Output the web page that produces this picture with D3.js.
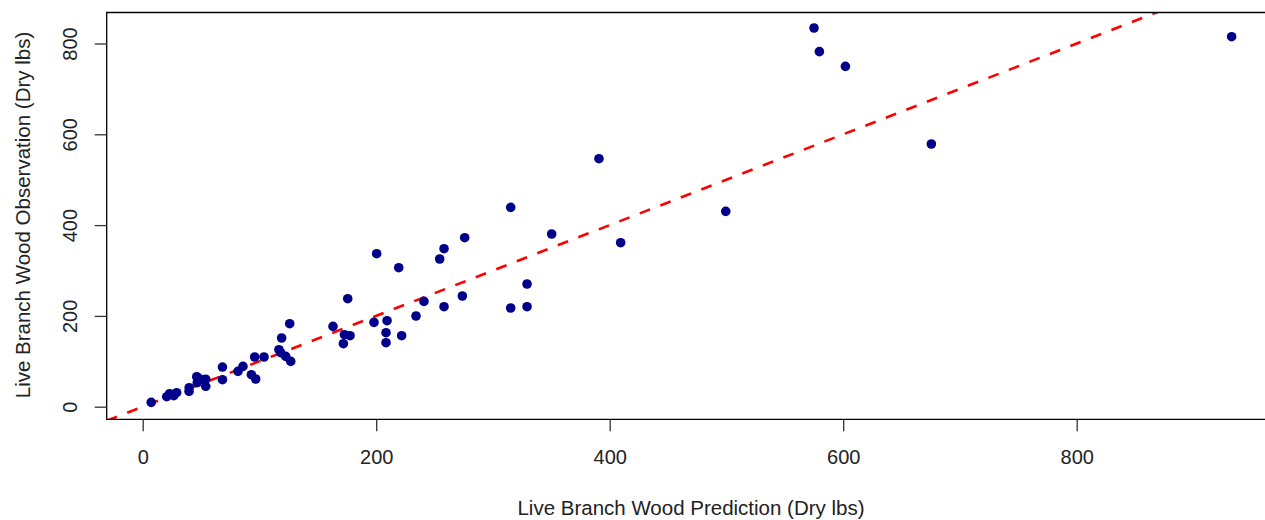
<!DOCTYPE html>
<html>
<head>
<meta charset="utf-8">
<script src="https://cdn.jsdelivr.net/npm/d3@7"></script>
<style>
  html, body { margin: 0; padding: 0; background: #fff; }
  text { font-family: "Liberation Sans", Arial, sans-serif; }
</style>
</head>
<body>
<svg id="chart" width="1265" height="520"></svg>
<script>
// Predicted (x) and observed (y) live branch wood, dry lbs
const predicted = [7.3, 20.6, 23.1, 26.6, 29.1, 39.7, 39.8, 46.3, 49.7, 54, 54, 46.7,
  68.3, 68.3, 81.6, 85.9, 93.1, 96.8, 95.9, 103.9, 116.7, 118.2, 122.5, 126.8, 119, 125.9,
  163, 175.6, 172.8, 177.6, 171.9, 200.4, 219.3, 198.1, 209.3, 208.4, 208.4, 221.8,
  234.1, 240.9, 258.1, 254.4, 258.1, 275.8, 273.8, 315.2, 329.2, 329.2, 350.3, 315.2,
  390.8, 409.4, 499.4, 575, 579.6, 601.9, 675.5, 932.7];
const observed = [9.5, 22, 28.6, 24.2, 30.8, 33.7, 41.9, 66, 60.6, 60.6, 45, 52.9,
  87.4, 59.5, 77.8, 88.8, 70.5, 61, 109.5, 109.5, 125.6, 119, 110.8, 99.8, 151.3, 182.8,
  176.9, 237.9, 158.6, 156.4, 138.8, 337, 306.2, 185.7, 189.4, 163, 141, 156.4,
  199.8, 231.9, 220.3, 325.3, 348, 372.2, 243.8, 217.4, 220.3, 270.3, 380.4, 439,
  546.3, 361.2, 430.2, 834.1, 782, 749.6, 578.6, 815];
const xTicks = [0, 200, 400, 600, 800];
const yTicks = [0, 200, 400, 600, 800];
const xTitle = "Live Branch Wood Prediction (Dry lbs)";
const yTitle = "Live Branch Wood Observation (Dry lbs)";

const svg = d3.select("#chart");
const plot = { left: 106.7, top: 12.5, right: 1290, bottom: 419.3 };

const x = d3.scaleLinear().domain([0, 800]).range([142.7, 1076.7]);
const y = d3.scaleLinear().domain([0, 800]).range([406.7, 43.5]);

svg.append("defs").append("clipPath").attr("id", "clip")
  .append("rect")
  .attr("x", plot.left).attr("y", plot.top)
  .attr("width", plot.right - plot.left).attr("height", plot.bottom - plot.top);

// 1:1 reference line
const lo = Math.min(x.invert(plot.left), y.invert(plot.bottom));
const hi = Math.max(x.invert(plot.right), y.invert(plot.top));
svg.append("g").attr("clip-path", "url(#clip)")
  .append("line")
  .attr("x1", x(lo)).attr("y1", y(lo))
  .attr("x2", x(hi)).attr("y2", y(hi))
  .attr("stroke", "#ff0000").attr("stroke-width", 2.6)
  .attr("stroke-dasharray", "11,11");

// Points
svg.append("g").attr("clip-path", "url(#clip)")
  .selectAll("circle").data(predicted.map((p, i) => [p, observed[i]]))
  .join("circle")
  .attr("cx", d => x(d[0])).attr("cy", d => y(d[1]))
  .attr("r", 4.8).attr("fill", "#00008b");

// Box (right edge out of view)
svg.append("path")
  .attr("d", `M${plot.right},${plot.top}H${plot.left}V${plot.bottom}H${plot.right}`)
  .attr("fill", "none").attr("stroke", "#000").attr("stroke-width", 1.3);

// X axis
const xAxis = d3.axisBottom(x).tickValues(xTicks).tickSize(12).tickPadding(19).tickSizeOuter(0);
const gx = svg.append("g").attr("transform", `translate(0,${plot.bottom})`).call(xAxis);
gx.select(".domain").remove();
gx.selectAll(".tick line").attr("stroke", "#333").attr("stroke-width", 1.3);
gx.selectAll(".tick text").attr("font-size", 20).attr("fill", "#222")
  .attr("font-family", "'Liberation Sans', Arial, sans-serif");

// Y axis
const yAxis = d3.axisLeft(y).tickValues(yTicks).tickSize(12).tickSizeOuter(0);
const gy = svg.append("g").attr("transform", `translate(${plot.left},0)`).call(yAxis);
gy.select(".domain").remove();
gy.selectAll(".tick line").attr("stroke", "#333").attr("stroke-width", 1.3);
gy.selectAll(".tick text")
  .attr("font-size", 20).attr("fill", "#222")
  .attr("font-family", "'Liberation Sans', Arial, sans-serif")
  .attr("x", null)
  .attr("text-anchor", "middle")
  .attr("transform", "translate(-36.5,0) rotate(-90)")
  .attr("dy", "0.35em");

// Titles
svg.append("text").attr("x", 691).attr("y", 515)
  .attr("text-anchor", "middle").attr("font-size", 20.5).attr("fill", "#222")
  .text(xTitle);
svg.append("text")
  .attr("transform", "translate(30,215) rotate(-90)")
  .attr("text-anchor", "middle").attr("font-size", 20.5).attr("fill", "#222")
  .text(yTitle);
</script>
</body>
</html>
